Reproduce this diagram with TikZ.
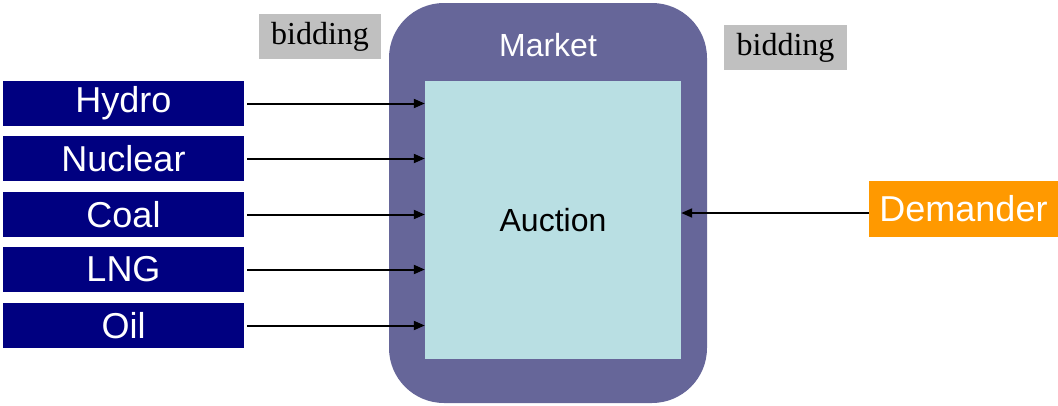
\documentclass[tikz,border=0pt]{standalone}
\usepackage{fontspec}
\setmainfont{Liberation Sans}
\newfontfamily\timesfont{Liberation Serif}
\usetikzlibrary{arrows.meta}
\definecolor{navybox}{HTML}{000080}
\definecolor{marketfill}{HTML}{666699}
\definecolor{auctionfill}{HTML}{B9DFE3}
\definecolor{demandfill}{HTML}{FF9900}
\definecolor{bidgray}{HTML}{C0C0C0}
\tikzset{
  source/.style={fill=navybox, text=white, inner sep=0pt, minimum width=241pt, minimum height=45pt,
    font=\fontsize{36}{36}\selectfont},
  bidlabel/.style={fill=bidgray, inner sep=0pt, minimum width=122pt, minimum height=45pt,
    font=\timesfont\fontsize{32}{32}\selectfont},
  feed/.style={line width=2pt, -{Triangle[length=11pt,width=9pt]}},
}
\begin{document}
\begin{tikzpicture}[x=1pt,y=-1pt]
\useasboundingbox (0,0) rectangle (1058,405);
% market frame and auction area
\node[fill=marketfill, rounded corners=55pt, inner sep=0pt, minimum width=318pt, minimum height=400pt] (market) at (548,203) {};
\node[text=white, font=\fontsize{32}{32}\selectfont] (markettext) at (548,45) {Market};
\node[fill=auctionfill, inner sep=0pt, minimum width=256pt, minimum height=278pt,
  font=\fontsize{32}{32}\selectfont] (auction) at (553,220) {Auction};
% bidding labels
\node[bidlabel] (bidleft) at (320,36.5) {bidding};
\node[bidlabel, minimum width=123pt] (bidright) at (785.5,47.5) {bidding};
% generators
\node[source] (hydro) at (123.5,103.5) {Hydro};
\node[source] (nuclear) at (123.5,158.5) {Nuclear};
\node[source] (coal) at (123.5,214.5) {Coal};
\node[source] (lng) at (123.5,269.5) {LNG};
\node[source] (oil) at (123.5,325.5) {Oil};
% demand side
\node[fill=demandfill, text=white, inner sep=0pt, minimum width=189pt, minimum height=56pt,
  font=\fontsize{36}{36}\selectfont] (demander) at (963.5,209) {Demander};
% bids into the auction
\foreach \s in {hydro,nuclear,coal,lng,oil}
  \draw[feed, shorten <=3pt] (\s.east) -- (\s.east -| auction.west);
\draw[feed] ([yshift=-4pt]demander.west) -- ([yshift=-4pt]demander.west -| auction.east);
\end{tikzpicture}
\end{document}
